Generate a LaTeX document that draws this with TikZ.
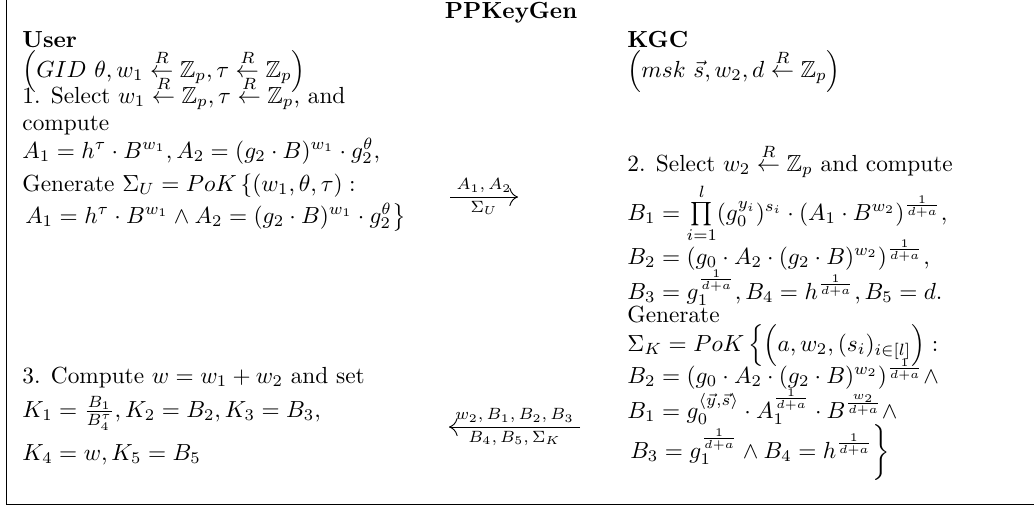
\documentclass[tikz,border=0pt]{standalone}
\usepackage{amsmath}
\usepackage{amssymb}
\usetikzlibrary{positioning,arrows.meta}
\newcommand{\rnd}{\overset{R}{\leftarrow}}
\newcommand{\ex}{\frac{1}{d+a}}

\begin{document}
\begin{tikzpicture}[x=0.4292pt, y=-0.4292pt,
  txt/.style={anchor=base west, inner sep=0pt},
  hd/.style={txt, font=\bfseries},
  arr/.style={-{To[length=1.3mm]}},
  msg/.style={inner sep=1.5pt, font=\scriptsize}]
\useasboundingbox (0,0) rectangle (1034,508);
% frame
\draw (6,0) -- (6,504) -- (1034,504);
\node[font=\bfseries, anchor=base, inner sep=0pt] (title) at (511,18) {PPKeyGen};
% user side
\node[hd] (user) at (22,47) {User};
\node[txt] (uin) at (22,77) {$\left(GID\ \theta, w_1 \rnd \mathbb{Z}_p, \tau \rnd \mathbb{Z}_p\right)$};
\node[txt] (u1) at (22,103) {1. Select $w_1 \rnd \mathbb{Z}_p, \tau \rnd \mathbb{Z}_p$, and};
\node[txt] (u1b) at (22,130) {compute};
\node[txt] (u1c) at (22,158) {$A_1 = h^{\tau}\cdot B^{w_1}, A_2 = (g_2\cdot B)^{w_1}\cdot g_2^{\theta},$};
\node[txt] (u1d) at (22,191) {Generate $\Sigma_U = PoK\left\{(w_1,\theta,\tau):\right.$};
\node[txt] (u1e) at (22,223) {$\left.A_1 = h^{\tau}\cdot B^{w_1}\wedge A_2 = (g_2\cdot B)^{w_1}\cdot g_2^{\theta}\right\}$};
\node[txt] (u3) at (22,383) {3. Compute $w = w_1 + w_2$ and set};
\node[txt] (u3b) at (22,417) {$K_1 = \frac{B_1}{B_4^{\tau}}, K_2 = B_2, K_3 = B_3,$};
\node[txt] (u3c) at (22,460) {$K_4 = w, K_5 = B_5$};
% KGC side
\node[hd] (kgc) at (627,47) {KGC};
\node[txt] (kin) at (627,77) {$\left(msk\ \vec{s}, w_2, d \rnd \mathbb{Z}_p\right)$};
\node[txt] (k2) at (627,171) {2. Select $w_2 \rnd \mathbb{Z}_p$ and compute};
\node[txt] (k2b) at (627,220) {$B_1 = \prod\limits_{i=1}^{l}(g_0^{y_i})^{s_i}\cdot(A_1\cdot B^{w_2})^{\ex},$};
\node[txt] (k2c) at (627,264) {$B_2 = (g_0\cdot A_2\cdot(g_2\cdot B)^{w_2})^{\ex},$};
\node[txt] (k2d) at (627,299) {$B_3 = g_1^{\ex}, B_4 = h^{\ex}, B_5 = d.$};
\node[txt] (k2e) at (627,322) {Generate};
\node[txt] (k2f) at (627,351) {$\Sigma_K = PoK\,\Big\{\Big(a, w_2, (s_i)_{i\in[l]}\Big):$};
\node[txt] (k2g) at (627,383) {$B_2 = (g_0\cdot A_2\cdot(g_2\cdot B)^{w_2})^{\ex}\wedge$};
\node[txt] (k2h) at (627,418) {$B_1 = g_0^{\langle\vec{y},\vec{s}\rangle}\cdot A_1^{\ex}\cdot B^{\frac{w_2}{d+a}}\wedge$};
\node[txt] (k2i) at (627,458) {$\left.B_3 = g_1^{\ex}\wedge B_4 = h^{\ex}\right\}$};
% messages
\coordinate (m1s) at (450,197);
\coordinate (m1e) at (518,197);
\draw[arr] (m1s) -- node[msg, above]{$A_1,A_2$} node[msg, below]{$\Sigma_U$} (m1e);
\coordinate (m2s) at (580,427);
\coordinate (m2e) at (449,427);
\draw[arr] (m2s) -- node[msg, above]{$w_2,B_1,B_2,B_3$} node[msg, below]{$B_4,B_5,\Sigma_K$} (m2e);
\end{tikzpicture}
\end{document}
